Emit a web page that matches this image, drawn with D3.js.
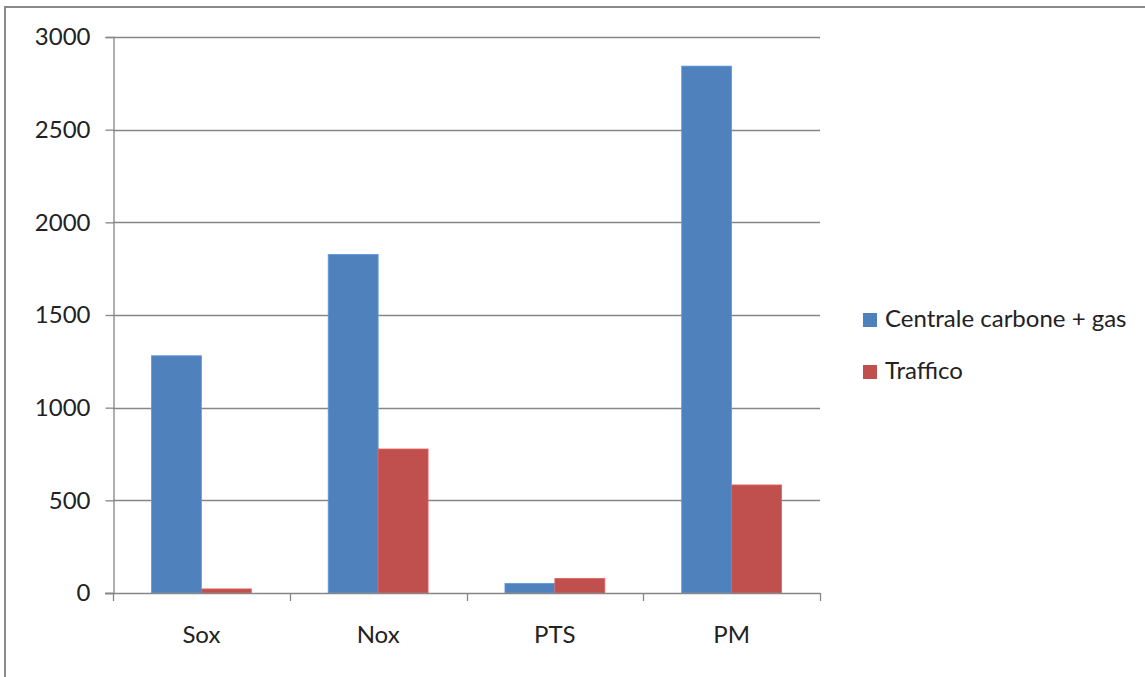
<!DOCTYPE html>
<html>
<head>
<meta charset="utf-8">
<script src="https://cdn.jsdelivr.net/npm/d3@7/dist/d3.min.js"></script>
<style>
  html, body { margin: 0; padding: 0; background: #fff; }
  svg { display: block; font-family: Lato, "Open Sans", sans-serif; }
</style>
</head>
<body>
<svg id="chart" width="1145" height="677"></svg>
<script>
// Emissions by pollutant: power plant vs traffic
const categories = ["Sox", "Nox", "PTS", "PM"];
const seriesNames = ["Centrale carbone + gas", "Traffico"];
const centraleValues = [1280, 1827, 52, 2843];
const trafficoValues = [22, 777, 79, 583];
const yTicks = [0, 500, 1000, 1500, 2000, 2500, 3000];
const seriesColors = ["#4F81BD", "#C0504D"];

const svg = d3.select("#chart");
const W = 1145, H = 677;
const FONT = 24;

// outer frame (top and left edges)
svg.append("path")
  .attr("d", `M5,${H} L5,7 L${W},7`)
  .attr("fill", "none")
  .attr("stroke", "#8a8a8a")
  .attr("stroke-width", 2);

const plot = { left: 113, right: 820, top: 37, bottom: 593 };

const x0 = d3.scaleBand()
  .domain(categories)
  .range([plot.left, plot.right])
  .paddingInner(0)
  .paddingOuter(0);

const x1 = d3.scaleBand()
  .domain(seriesNames)
  .range([0, x0.bandwidth()])
  .paddingInner(0)
  .paddingOuter(0.77);

const y = d3.scaleLinear()
  .domain([0, 3000])
  .range([plot.bottom, plot.top]);

// horizontal gridlines
svg.append("g")
  .selectAll("line")
  .data(yTicks.filter(d => d > 0))
  .join("line")
  .attr("x1", plot.left)
  .attr("x2", plot.right)
  .attr("y1", d => Math.round(y(d)) + 0.5)
  .attr("y2", d => Math.round(y(d)) + 0.5)
  .attr("stroke", "#868686")
  .attr("stroke-width", 1.3);

// bars
const rows = categories.map((c, i) => ({ cat: c, values: [centraleValues[i], trafficoValues[i]] }));
svg.append("g")
  .selectAll("g")
  .data(rows)
  .join("g")
  .attr("transform", d => `translate(${x0(d.cat)},0)`)
  .selectAll("rect")
  .data(d => d.values.map((v, j) => ({ name: seriesNames[j], value: v, color: seriesColors[j] })))
  .join("rect")
  .attr("x", d => x1(d.name))
  .attr("width", x1.bandwidth())
  .attr("y", d => y(d.value))
  .attr("height", d => y(0) - y(d.value))
  .attr("fill", d => d.color)
  .attr("stroke", d => d3.color(d.color).brighter(0.5))
  .attr("stroke-width", 0.8);

// y axis
const yAxis = d3.axisLeft(y)
  .tickValues(yTicks)
  .tickSize(8)
  .tickPadding(15)
  .tickFormat(d3.format("d"));
const gy = svg.append("g")
  .attr("transform", `translate(${plot.left + 0.5},0)`)
  .call(yAxis);
gy.select(".domain").attr("stroke", "#868686").attr("stroke-width", 1.3);
gy.selectAll(".tick line").attr("stroke", "#868686").attr("stroke-width", 1.3);
gy.selectAll(".tick text")
  .attr("font-size", FONT)
  .attr("font-family", "Lato, 'Open Sans', sans-serif")
  .attr("fill", "#222");

// x axis: baseline plus boundary ticks between categories
const gx = svg.append("g");
gx.append("line")
  .attr("x1", plot.left - 8)
  .attr("x2", plot.right)
  .attr("y1", y(0) + 0.5)
  .attr("y2", y(0) + 0.5)
  .attr("stroke", "#868686")
  .attr("stroke-width", 1.3);
const boundaries = categories.map(c => x0(c)).concat([x0(categories[categories.length - 1]) + x0.bandwidth()]);
gx.selectAll("line.tick")
  .data(boundaries)
  .join("line")
  .attr("class", "tick")
  .attr("x1", d => Math.round(d) + 0.5)
  .attr("x2", d => Math.round(d) + 0.5)
  .attr("y1", y(0))
  .attr("y2", y(0) + 8)
  .attr("stroke", "#868686")
  .attr("stroke-width", 1.3);
gx.selectAll("text")
  .data(categories)
  .join("text")
  .attr("x", d => x0(d) + x0.bandwidth() / 2)
  .attr("y", 643)
  .attr("text-anchor", "middle")
  .attr("font-size", FONT)
  .attr("fill", "#222")
  .text(d => d);

// legend
const legend = svg.append("g");
seriesNames.forEach((name, i) => {
  const ly = 313 + i * 52;
  legend.append("rect")
    .attr("x", 863)
    .attr("y", ly)
    .attr("width", 14)
    .attr("height", 14)
    .attr("fill", seriesColors[i]);
  legend.append("text")
    .attr("x", 885)
    .attr("y", ly + 14)
    .attr("font-size", FONT)
    .attr("fill", "#222")
    .text(name);
});
</script>
</body>
</html>
